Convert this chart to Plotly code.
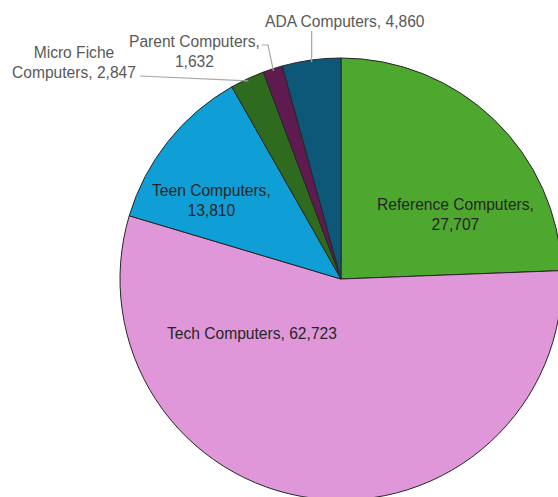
import math
import plotly.graph_objects as go

# ---- data ----
labels = ["Reference Computers", "Tech Computers", "Teen Computers",
          "Micro Fiche Computers", "Parent Computers", "ADA Computers"]
values = [27707, 62723, 13810, 2847, 1632, 4860]
colors = ["#4EA72E", "#E097D9", "#0F9ED5", "#2F6B1F", "#5F1B50", "#0D5878"]
# how each label is broken into lines
label_lines = [["Reference Computers,", "{v}"],
               ["Tech Computers, {v}"],
               ["Teen Computers,", "{v}"],
               ["Micro Fiche", "Computers, {v}"],
               ["Parent Computers,", "{v}"],
               ["ADA Computers, {v}"]]

# figure is drawn a little larger than the window so the pie is cropped
# at the right/bottom like the reference
OFF = 0
W, H = 570, 505
FONT = "Liberation Sans, Arial, sans-serif"

# pie geometry in reference (window) pixels
CX, CY, R = 341.0, 279.0, 221.0


def px(x, y):
    """reference window pixel -> figure paper coords"""
    return (x - OFF) / W, 1 - (y - OFF) / H


x0, y0 = px(CX - R, CY + R)
x1, y1 = px(CX + R, CY - R)

fig = go.Figure(go.Pie(
    labels=labels, values=values, sort=False, direction="clockwise", rotation=0,
    marker=dict(colors=colors, line=dict(color="#262626", width=1)),
    textinfo="none", hoverinfo="skip", showlegend=False,
    domain=dict(x=[x0, x1], y=[y0, y1]),
))

texts = ["<br>".join(l.format(v=f"{v:,}") for l in lines)
         for lines, v in zip(label_lines, values)]

# label placement (reference pixel centres)
label_pos = [(455, 215), (252, 333), (211, 200), (74, 62), (194, 52), (345, 21)]
inside = [True, True, True, False, False, False]

for t, (x, y), ins in zip(texts, label_pos, inside):
    ax_, ay_ = px(x, y)
    fig.add_annotation(x=ax_, y=ay_, xref="paper", yref="paper", text=t,
                       showarrow=False, xanchor="center", yanchor="middle",
                       align="center",
                       font=dict(family=FONT, size=15.6,
                                 color="#262626" if ins else "#595959"))

# leader lines to the slice mid-angles
total = sum(values)
cum = 0
mids = []
for v in values:
    mids.append((cum + v / 2) / total * 2 * math.pi)
    cum += v


def edge(i, k=0.99):
    a = mids[i]
    return CX + R * k * math.sin(a), CY - R * k * math.cos(a)


leaders = {
    3: [(140, 76)],
    4: [(262, 45), (268, 45)],
    5: None,
}
for i, pts in leaders.items():
    ex, ey = edge(i)
    if pts is None:
        pts = [(ex, 31)]
    pts = pts + [(ex, ey)]
    path = "M " + " L ".join(f"{px(x, y)[0]},{px(x, y)[1]}" for x, y in pts)
    fig.add_shape(type="path", path=path, xref="paper", yref="paper",
                  line=dict(color="#A6A6A6", width=1.2), layer="above")

fig.update_layout(width=W, height=H, margin=dict(l=0, r=0, t=0, b=0),
                  paper_bgcolor="white", plot_bgcolor="white")
fig.write_html(
    "out.html",
    config={"displayModeBar": False},
    post_script=("document.documentElement.style.overflow='hidden';"
                 "document.body.style.margin='0';"
                 "document.body.style.overflow='hidden';"),
)
